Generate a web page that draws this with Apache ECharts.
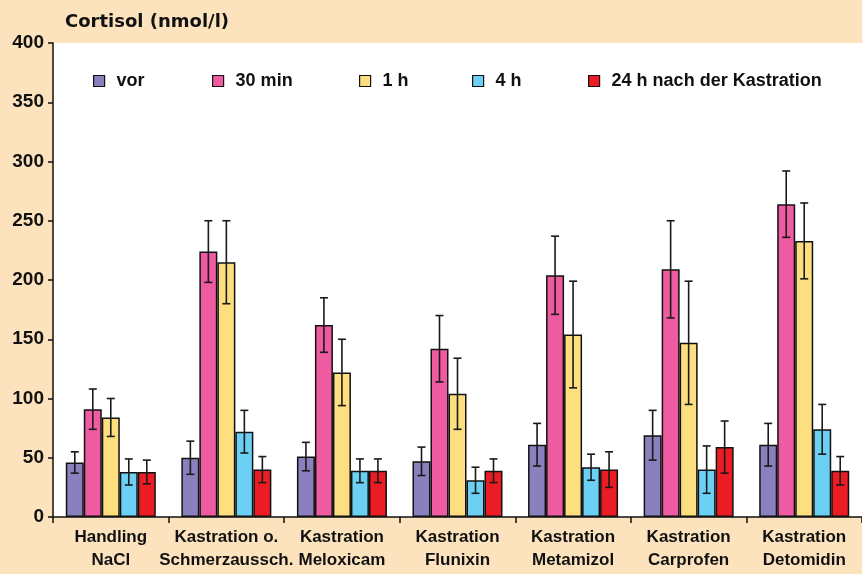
<!DOCTYPE html>
<html lang="de">
<head>
<meta charset="utf-8">
<title>Cortisol</title>
<script src="https://cdn.jsdelivr.net/npm/echarts@6/dist/echarts.min.js"></script>
<style>
  html, body { margin: 0; padding: 0; background: #FDE3BD; }
  #chart { width: 862px; height: 574px; }
</style>
</head>
<body>
<div id="chart"></div>
<script>
// Kategorien (x-Achse)
var categories = ['Handling\nNaCl', 'Kastration o.\nSchmerzaussch.', 'Kastration\nMeloxicam',
    'Kastration\nFlunixin', 'Kastration\nMetamizol', 'Kastration\nCarprofen', 'Kastration\nDetomidin'];
var seriesNames = ['vor', '30 min', '1 h', '4 h', '24 h nach der Kastration'];

// Mittelwerte
var vor    = [46, 50, 51, 47, 61, 69, 61];
var min30  = [91, 224, 162, 142, 204, 209, 264];
var h1     = [84, 215, 122, 104, 154, 147, 233];
var h4     = [38, 72, 39, 31, 42, 40, 74];
var h24    = [38, 40, 39, 39, 40, 59, 39];

// Standardabweichung (Fehlerbalken)
var vorErr   = [9, 14, 12, 12, 18, 21, 18];
var min30Err = [17, 26, 23, 28, 33, 41, 28];
var h1Err    = [16, 35, 28, 30, 45, 52, 32];
var h4Err    = [11, 18, 10, 11, 11, 20, 21];
var h24Err   = [10, 11, 10, 10, 15, 22, 12];

var yTicks = [0, 50, 100, 150, 200, 250, 300, 350, 400];

var values = [vor, min30, h1, h4, h24];
var errors = [vorErr, min30Err, h1Err, h4Err, h24Err];
var colors = ['#8A80BE', '#EE5BA0', '#FDDF80', '#6CCFF4', '#EC1C24'];
var legendLeft = [88, 207, 354, 467, 583];
var BAR_W = 18;

var chart = echarts.init(document.getElementById('chart'));

var series = [];
values.forEach(function (vals, i) {
    series.push({
        name: seriesNames[i],
        type: 'bar',
        data: vals,
        barWidth: BAR_W,
        barGap: '0%',
        itemStyle: { color: colors[i], borderColor: '#111', borderWidth: 1.5 },
        z: 2
    });
});
values.forEach(function (vals, i) {
    series.push({
        name: 'err' + i,
        type: 'custom',
        data: vals.map(function (v, k) { return [k, v, errors[i][k]]; }),
        encode: { x: 0, y: 1 },
        z: 5,
        silent: true,
        renderItem: function (params, api) {
            var k = api.value(0);
            var v = api.value(1);
            var e = api.value(2);
            var hi = api.coord([k, v + e]);
            var lo = api.coord([k, v - e]);
            var x = hi[0] + (i - 2) * BAR_W;
            var cap = 4;
            var st = { stroke: '#1a1a1a', lineWidth: 1.6 };
            return {
                type: 'group',
                children: [
                    { type: 'line', shape: { x1: x, y1: hi[1], x2: x, y2: lo[1] }, style: st },
                    { type: 'line', shape: { x1: x - cap, y1: hi[1], x2: x + cap, y2: hi[1] }, style: st },
                    { type: 'line', shape: { x1: x - cap, y1: lo[1], x2: x + cap, y2: lo[1] }, style: st }
                ]
            };
        }
    });
});

var legends = seriesNames.map(function (n, i) {
    return {
        data: [{ name: n, icon: 'rect' }],
        left: legendLeft[i],
        top: 67,
        itemWidth: 11,
        itemHeight: 11,
        itemGap: 0,
        selectedMode: false,
        itemStyle: { borderColor: '#111', borderWidth: 1.2 },
        textStyle: {
            fontFamily: '"Liberation Sans", Arial, sans-serif',
            fontWeight: 'bold',
            fontSize: 18,
            color: '#111',
            padding: [0, 0, 0, 7]
        }
    };
});

var option = {
    backgroundColor: '#FDE3BD',
    animation: false,
    title: {
        text: 'Cortisol (nmol/l)',
        left: 60,
        top: 8,
        textStyle: {
            fontFamily: '"DejaVu Sans", sans-serif',
            fontWeight: 'bold',
            fontSize: 18,
            color: '#111'
        }
    },
    legend: legends,
    grid: {
        left: 53,
        right: -8,
        top: 43,
        bottom: 57,
        show: true,
        backgroundColor: '#fff',
        borderWidth: 0
    },
    xAxis: {
        type: 'category',
        data: categories,
        axisLine: { lineStyle: { color: '#111', width: 1.5 } },
        axisTick: { show: true, length: 6, lineStyle: { color: '#111', width: 1.5 } },
        axisLabel: {
            interval: 0,
            margin: 9,
            fontFamily: '"Liberation Sans", Arial, sans-serif',
            fontWeight: 'bold',
            fontSize: 17,
            lineHeight: 23,
            color: '#111'
        }
    },
    yAxis: {
        type: 'value',
        min: yTicks[0],
        max: yTicks[yTicks.length - 1],
        interval: 50,
        axisLine: { show: true, lineStyle: { color: '#111', width: 1.5 } },
        axisTick: { show: true, length: 5, lineStyle: { color: '#111', width: 1.5 } },
        splitLine: { show: false },
        axisLabel: {
            margin: 9,
            fontFamily: '"Liberation Sans", Arial, sans-serif',
            fontWeight: 'bold',
            fontSize: 19,
            color: '#111'
        }
    },
    series: series
};

chart.setOption(option);
</script>
</body>
</html>
